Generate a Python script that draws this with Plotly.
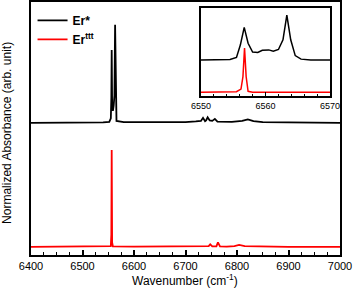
import plotly.graph_objects as go

# ---- main spectra (wavenumber, normalized absorbance with offsets) ----
er_star_x = [6400, 6450, 6500, 6540, 6552, 6555, 6556, 6556.7, 6557.5, 6559, 6560.5, 6562, 6563.3, 6564.5, 6566, 6580,
             6650, 6700, 6720, 6730, 6734, 6738, 6740, 6743, 6747, 6752, 6757, 6762, 6790, 6810, 6821, 6832, 6850, 6900, 6950, 7000]
er_star_y = [52.2, 52.2, 52.3, 52.4, 52.6, 54, 62, 81, 60, 57, 59, 63, 91, 62, 53, 52.5,
             52.4, 52.5, 52.8, 53.0, 54.2, 52.9, 53.2, 54.4, 53.2, 53.0, 53.8, 52.7, 52.6, 53.0, 53.6, 52.9, 52.5, 52.4, 52.3, 52.2]

er_ttt_x = [6400, 6450, 6500, 6550, 6555, 6556, 6556.7, 6557.5, 6559, 6600, 6700, 6740, 6745, 6748, 6752, 6760, 6763, 6767,
            6780, 6795, 6804, 6815, 6850, 6900, 7000]
er_ttt_y = [3.2, 3.2, 3.2, 3.3, 3.5, 8, 41.5, 5, 3.4, 3.3, 3.3, 3.3, 3.5, 4.2, 3.4, 3.4, 5.0, 3.4,
            3.3, 3.5, 4.0, 3.5, 3.3, 3.2, 3.2]

# ---- inset spectra ----
in_star_x = [6550, 6553, 6554.5, 6555.5, 6556.1, 6556.7, 6557.3, 6558, 6558.8, 6559.5, 6560, 6560.5, 6561.2, 6562,
             6562.7, 6563.3, 6563.9, 6564.6, 6565.5, 6567, 6570]
in_star_y = [41, 41, 41.5, 44, 58, 78, 60, 50, 49.5, 52, 52, 52.5, 51, 53, 64, 92, 64, 46, 42, 41, 41]

in_ttt_x = [6550, 6554, 6555.5, 6556.2, 6556.5, 6556.75, 6557.0, 6557.3, 6558, 6570]
in_ttt_y = [4.5, 4.5, 5.0, 8, 22, 54.5, 22, 5.5, 4.5, 4.5]

main_ticks = [6400, 6500, 6600, 6700, 6800, 6900, 7000]
inset_ticks = [6550, 6560, 6570]

FONT = "Liberation Sans, Arial, sans-serif"

fig = go.Figure()
fig.add_trace(go.Scatter(x=er_star_x, y=er_star_y, mode="lines", name="<b>Er*</b>",
                         line=dict(color="black", width=1.8)))
fig.add_trace(go.Scatter(x=er_ttt_x, y=er_ttt_y, mode="lines", name="<b>Er<sup>ttt</sup></b>",
                         line=dict(color="red", width=1.8)))
fig.add_trace(go.Scatter(x=in_star_x, y=in_star_y, mode="lines", showlegend=False,
                         line=dict(color="black", width=1.5), xaxis="x2", yaxis="y2"))
fig.add_trace(go.Scatter(x=in_ttt_x, y=in_ttt_y, mode="lines", showlegend=False,
                         line=dict(color="red", width=1.5), xaxis="x2", yaxis="y2"))

fig.update_layout(
    width=354, height=294,
    margin=dict(l=31, r=14, t=2, b=39),
    paper_bgcolor="white", plot_bgcolor="white",
    font=dict(family=FONT, color="black", size=11),
    showlegend=True,
    legend=dict(x=0.005, y=0.985, xanchor="left", yanchor="top", bgcolor="rgba(0,0,0,0)",
                font=dict(size=12, family=FONT), tracegroupgap=0, itemwidth=30),
    xaxis=dict(range=[6400, 7000], tickvals=main_ticks, ticks="inside", ticklen=5, tickwidth=1.5,
               tickcolor="black", showline=True, linecolor="black", linewidth=2, mirror=True,
               showgrid=False, zeroline=False, automargin=False,
               minor=dict(dtick=25, tick0=6400, ticks="inside", ticklen=3, tickcolor="black", tickwidth=1.2),
               tickfont=dict(size=11)),
    yaxis=dict(range=[0, 100], showticklabels=False, ticks="", showline=True, linecolor="black",
               linewidth=2, mirror=True, showgrid=False, zeroline=False, automargin=False),
    xaxis2=dict(domain=[0.55, 0.968], anchor="y2", range=[6550, 6570], tickvals=inset_ticks,
                ticks="inside", ticklen=4, tickcolor="black", showline=True, linecolor="black",
                linewidth=1.5, mirror=True, showgrid=False, zeroline=False, automargin=False,
                minor=dict(dtick=2, tick0=6550, ticks="inside", ticklen=2, tickcolor="black"),
                tickfont=dict(size=9)),
    yaxis2=dict(domain=[0.628, 0.976], anchor="x2", range=[0, 100], showticklabels=False, ticks="",
                showline=True, linecolor="black", linewidth=1.5, mirror=True, showgrid=False,
                zeroline=False, automargin=False),
    annotations=[
        dict(text="Wavenumber (cm<sup>-1</sup>)", xref="paper", yref="paper", x=0.498, y=-0.098,
             xanchor="center", yanchor="middle", showarrow=False, font=dict(size=12)),
        dict(text="Normalized Absorbance (arb. unit)", xref="paper", yref="paper", x=-0.078, y=0.482,
             xanchor="center", yanchor="middle", textangle=-90, showarrow=False, font=dict(size=12)),
    ],
)

fig.write_html("out.html", config={"displayModeBar": False},
               post_script="document.body.style.margin='0';document.body.style.overflow='hidden';")
